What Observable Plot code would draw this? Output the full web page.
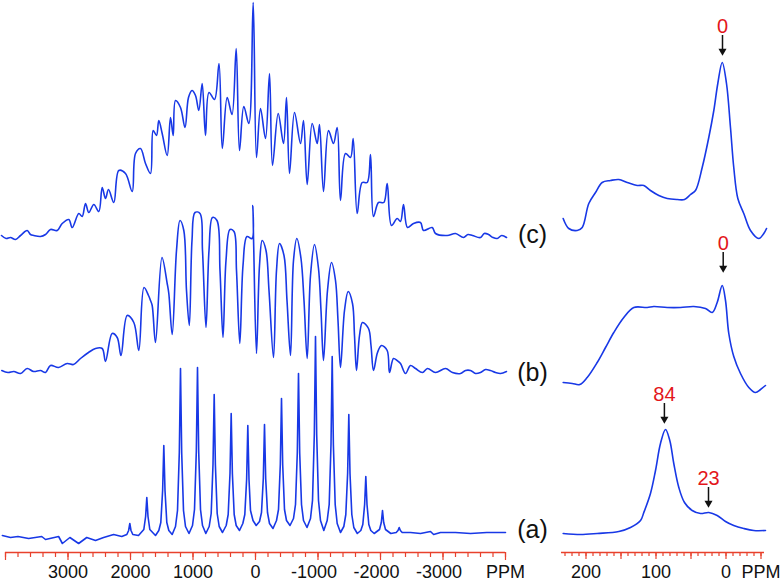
<!DOCTYPE html>
<html><head><meta charset="utf-8">
<script src="https://cdn.jsdelivr.net/npm/d3@7"></script>
<script src="https://cdn.jsdelivr.net/npm/@observablehq/plot@0.6"></script>
<style>
body{margin:0;background:#fff}
#chart{position:relative;width:784px;height:582px;overflow:hidden;background:#fff}
#chart svg{position:absolute;top:0;overflow:visible;background:transparent}
</style></head><body><div id="chart"></div>
<script>
// ---------- data: [ppm, intensity] ----------
const aLeft = [[4050,1],[3920,-1],[3800,0],[3630,-2],[3420,0],[3360,-3],[3150,0],[3090,-7],[2970,-1],[2830,-7],[2700,-1],[2560,-4],[2430,-1],[2270,2],[2140,0],
[2059,2],[2030,6],[2011,13],[1992,6],[1963,2],[1872,1],
[1787,7],[1758,20],[1739,39],[1720,20],[1691,7],[1600,1],
[1547,6],[1515,14],[1486,46],[1467,91],[1448,46],[1419,14],[1387,6],[1333,2],
[1280,10],[1248,26],[1219,84],[1200,168],[1181,84],[1152,26],[1120,10],[1064,3],
[1008,11],[976,27],[947,85],[928,169],[909,85],[880,27],[848,11],[795,3],
[741,10],[709,23],[680,72],[661,142],[642,72],[613,23],[581,10],[528,4],
[469,11],[437,22],[408,63],[389,123],[370,63],[341,22],[309,11],[256,6],
[203,13],[171,22],[142,57],[123,111],[104,57],[80,26],[40,16],[-11,11],
[-64,15],[-96,24],[-125,58],[-144,112],[-163,58],[-192,24],[-224,13],[-280,8],
[-336,16],[-368,27],[-397,72],[-416,138],[-435,72],[-464,27],[-496,16],[-552,11],
[-608,18],[-640,32],[-669,84],[-688,163],[-707,84],[-736,32],[-768,16],[-824,9],
[-880,18],[-912,36],[-941,102],[-960,200],[-979,102],[-1008,36],[-1040,16],[-1093,6],
[-1147,16],[-1179,32],[-1208,92],[-1227,180],[-1246,92],[-1275,32],[-1307,13],[-1360,4],
[-1413,10],[-1445,22],[-1474,63],[-1493,122],[-1512,63],[-1541,22],[-1573,9],[-1629,3],
[-1685,6],[-1717,12],[-1746,32],[-1765,60],[-1784,32],[-1813,12],[-1845,6],[-1899,3],
[-1984,7],[-2013,14],[-2032,26],[-2051,14],[-2080,7],[-2165,3],
[-2251,4],[-2280,6],[-2299,9],[-2318,6],[-2347,4],
[-2480,4],[-2640,3],[-2800,5],[-2850,2],[-2960,4],[-3200,4],[-3440,3],[-3700,4],[-4000,4]];

const bLeft = [[4060,2],[3960,0],[3867,1],[3760,-1],[3653,4],[3550,1],[3440,2],[3360,0],[3280,7],[3152,5],[3013,9],[2912,8],[2800,14],[2672,20],[2560,24],[2453,24],[2400,11],
[2293,39],[2213,35],[2152,17],[2053,57],[1947,50],[1867,22],[1784,85],[1712,77],[1680,72],[1653,67],[1600,30],
[1496,115],[1413,89],[1387,79],[1333,38],[1264,122],[1208,152],[1147,142],[1104,82],[1059,47],
[1016,132],[968,160],[888,159],[848,122],[792,45],[744,122],[688,155],[616,152],[568,102],[520,35],
[472,112],[408,143],[344,141],[304,102],[251,29],[200,107],[136,136],[56,134],[43,167],[29,127],[-16,19],
[-64,107],[-107,132],[-168,122],[-216,82],[-288,15],[-336,102],[-384,129],[-456,117],[-504,72],[-560,17],
[-608,112],[-661,134],[-728,114],[-776,72],[-827,14],[-880,97],[-944,128],[-1008,104],[-1048,62],[-1088,12],
[-1152,82],[-1216,110],[-1280,92],[-1320,52],[-1360,5],[-1424,62],[-1483,81],[-1552,69],[-1584,37],[-1616,2],
[-1664,37],[-1712,50],[-1808,44],[-1848,27],[-1888,2],[-1952,20],[-2016,27],[-2107,22],[-2144,0],
[-2208,14],[-2267,12],[-2320,9],[-2400,-1],[-2480,7],[-2560,4],[-2672,0],[-2752,4],[-2880,0],[-3040,4],
[-3152,0],[-3280,-1],[-3360,2],[-3440,2],[-3520,-1],[-3600,0],[-3680,3],[-3760,2],[-3840,0],[-3920,-1],[-4016,1]];

const cLeft = [[4064,2],[3990,-1],[3920,0],[3840,-2],[3760,2],[3653,7],[3600,3],[3547,2],[3440,1],[3360,3],[3280,8],[3173,7],[3093,14],[2987,18],[2933,10],
[2827,24],[2773,21],[2720,34],[2667,25],[2587,33],[2507,26],[2453,50],[2400,39],[2352,48],[2267,35],[2187,67],
[2080,64],[1973,46],[1920,84],[1840,89],[1760,74],[1680,64],[1637,107],[1584,102],[1547,117],[1493,104],[1413,82],
[1360,120],[1317,102],[1280,137],[1200,130],[1128,110],[1072,140],[1016,147],[960,142],[907,127],[853,154],[800,102],
[744,145],[656,138],[584,174],[531,89],[453,140],[376,123],[309,189],[256,87],[187,131],[107,114],[37,235],[-16,80],
[-80,129],[-160,99],[-224,164],[-272,72],[-363,124],[-448,94],[-496,140],[-544,64],[-624,125],[-720,94],[-768,117],
[-827,53],[-907,114],[-987,94],[-1024,113],[-1088,46],[-1168,107],[-1248,94],[-1307,110],[-1360,37],[-1440,84],
[-1520,80],[-1563,99],[-1627,24],[-1707,55],[-1787,55],[-1840,83],[-1888,21],[-1968,35],[-2053,35],[-2107,54],
[-2176,12],[-2267,19],[-2320,16],[-2368,33],[-2432,10],[-2528,14],[-2640,15],[-2688,7],[-2827,10],[-2880,4],
[-3067,2],[-3200,4],[-3328,0],[-3400,3],[-3472,2],[-3600,0],[-3660,4],[-3728,3],[-3800,0],[-3867,-1],[-3940,2],[-4016,0]];

const aRight = [[232.6,-1],[207.9,-2],[184,-1],[153.1,1],[136.4,5],[122.1,12],[117.4,20],[107.9,39],[100.7,62],[93.6,89],
[86.4,103],[80.3,92],[74.6,69],[67.4,45],[59.3,30],[48.3,22],[36.4,19],[24.6,20],[12.6,17],[0.7,11],[-11.1,7],
[-25.4,4],[-39.7,2],[-56.4,2]];

const bRight = [[232.6,2],[219.7,1],[208.9,0],[198.3,7],[184,22],[172.1,37],[160.3,52],[146,67],[131.7,77],[112.6,77],
[103.1,78],[84,77],[65,77],[46,78],[29.3,76],[19.7,72],[12.6,82],[5.4,99],[0.7,84],[-4,51],[-11.1,28],[-20.7,11],
[-32.6,-3],[-42.1,-8],[-49.3,-5],[-56.4,-1]];

const cRight = [[232.6,12],[224.6,2],[212.6,0],[205.4,3],[196,27],[186.4,38],[176.9,48],[165,50],[153.1,51],[141.1,48],
[126.9,45],[117.4,45],[107.9,40],[96,35],[84,32],[69.7,31],[59.3,31],[50.7,36],[43.6,40],[34,63],[24.6,93],
[17.4,120],[11.7,147],[5.4,168],[-0.7,147],[-6.4,103],[-11.1,63],[-16.9,32],[-25.4,17],[-35,0],[-46.9,-8],
[-54,-3],[-57.9,2]];

// ticks and labels
const leftMajor = [4000,3000,2000,1000,0,-1000,-2000,-3000,-4000];
const leftLabelValues = [3000,2000,1000,0,-1000,-2000,-3000,-4000];
const leftLabelText = ["3000","2000","1000","0","-1000","-2000","-3000","PPM"];
const rightMajor = [200,150,100,50,0,-50];
const rightLabelValues = [200,100,0,-50];
const rightLabelText = ["200","100","0","PPM"];
const traceNames = ["a","b","c"];

// annotations (right panel)
const annoTrace = ["c","b","a","a"];
const annoPpm = [5,4,88,25];
const annoText = ["0","0","84","23"];
const annoTip = [175,112,109,25];

// ---------- drawing ----------
const BLUE = "#1838e6", RED_AXIS = "#e8412c", RED_TEXT = "#e3161b";
const FONT = "'Liberation Sans', Arial, Helvetica, sans-serif";
const leftDomain = [4000,-4000], rightDomain = [235,-55];
const stackL = {a:16, b:180, c:315};
const stackR = {a:20, b:168, c:322};
const labelLift = {a:7, b:0, c:3};

function axisMarks(domain, major, minor, majorLen, minorLen, labVals, labText) {
  const pos = labVals.map((v,i)=>i).filter(i => !labText[i].startsWith("-"));
  const neg = labVals.map((v,i)=>i).filter(i => labText[i].startsWith("-"));
  return [
    Plot.ruleY([0], {x1: domain[0], x2: domain[1], stroke: RED_AXIS, strokeWidth: 1.5}),
    Plot.ruleX(minor, {y1: 0, y2: -minorLen, stroke: RED_AXIS, strokeWidth: 1.2}),
    Plot.ruleX(major, {y1: 0, y2: -majorLen, stroke: RED_AXIS, strokeWidth: 1.2}),
    Plot.text(pos, {x: i => labVals[i], text: i => labText[i], frameAnchor: "bottom", lineAnchor: "top", dy: 13, fontSize: 18, fill: "#111"}),
    Plot.text(neg, {x: i => labVals[i], text: i => labText[i], frameAnchor: "bottom", lineAnchor: "top", dy: 13, dx: -4, fontSize: 18, fill: "#111"})
  ];
}

const leftMinor = d3.range(4000, -4001, -200);
const rightMinor = d3.range(230, -51, -10);

const left = Plot.plot({
  width: 560, height: 582, marginLeft: 5, marginRight: 55, marginTop: 0, marginBottom: 30,
  x: {domain: leftDomain, axis: null},
  y: {domain: [0, 552], axis: null},
  style: {fontFamily: FONT, background: "transparent", overflow: "visible"},
  marks: [
    Plot.line(aLeft, {x: d => d[0], y: d => d[1] + stackL.a, stroke: BLUE, strokeWidth: 1.6}),
    Plot.line(bLeft, {x: d => d[0], y: d => d[1] + stackL.b, stroke: BLUE, strokeWidth: 1.6, curve: "catmull-rom"}),
    Plot.line(cLeft, {x: d => d[0], y: d => d[1] + stackL.c, stroke: BLUE, strokeWidth: 1.6, curve: "catmull-rom"}),
    Plot.text(traceNames, {x: leftDomain[1], y: d => stackL[d] + labelLift[d], text: d => `(${d})`, dx: 27, fontSize: 25, lineAnchor: "middle", fill: "#111"}),
    ...axisMarks(leftDomain, leftMajor, leftMinor, 8, 5, leftLabelValues, leftLabelText)
  ]
});

const idx = annoTrace.map((d,i)=>i);
const right = Plot.plot({
  width: 224, height: 582, marginLeft: 1, marginRight: 20, marginTop: 0, marginBottom: 30,
  x: {domain: rightDomain, axis: null},
  y: {domain: [0, 552], axis: null},
  style: {fontFamily: FONT, background: "transparent", overflow: "visible"},
  marks: [
    Plot.line(aRight, {x: d => d[0], y: d => d[1] + stackR.a, stroke: BLUE, strokeWidth: 1.6, curve: "catmull-rom"}),
    Plot.line(bRight, {x: d => d[0], y: d => d[1] + stackR.b, stroke: BLUE, strokeWidth: 1.6, curve: "catmull-rom"}),
    Plot.line(cRight, {x: d => d[0], y: d => d[1] + stackR.c, stroke: BLUE, strokeWidth: 1.6, curve: "catmull-rom"}),
    Plot.ruleX(idx, {x: i => annoPpm[i], y1: i => stackR[annoTrace[i]] + annoTip[i] + 5, y2: i => stackR[annoTrace[i]] + annoTip[i] + 20, stroke: "#111", strokeWidth: 1.5}),
    Plot.dot(idx, {x: i => annoPpm[i], y: i => stackR[annoTrace[i]] + annoTip[i] + 4.5, symbol: "triangle", r: 3, fill: "#111", stroke: "none", rotate: 180}),
    Plot.text(idx, {x: i => annoPpm[i], y: i => stackR[annoTrace[i]] + annoTip[i] + 23, text: i => annoText[i], fill: RED_TEXT, fontSize: 20, lineAnchor: "bottom"}),
    ...axisMarks(rightDomain, rightMajor, rightMinor, 7, 4, rightLabelValues, rightLabelText)
  ]
});

const chart = document.getElementById("chart");
left.style.left = "0px";
right.style.left = "560px";
chart.appendChild(left);
chart.appendChild(right);
</script></body></html>
